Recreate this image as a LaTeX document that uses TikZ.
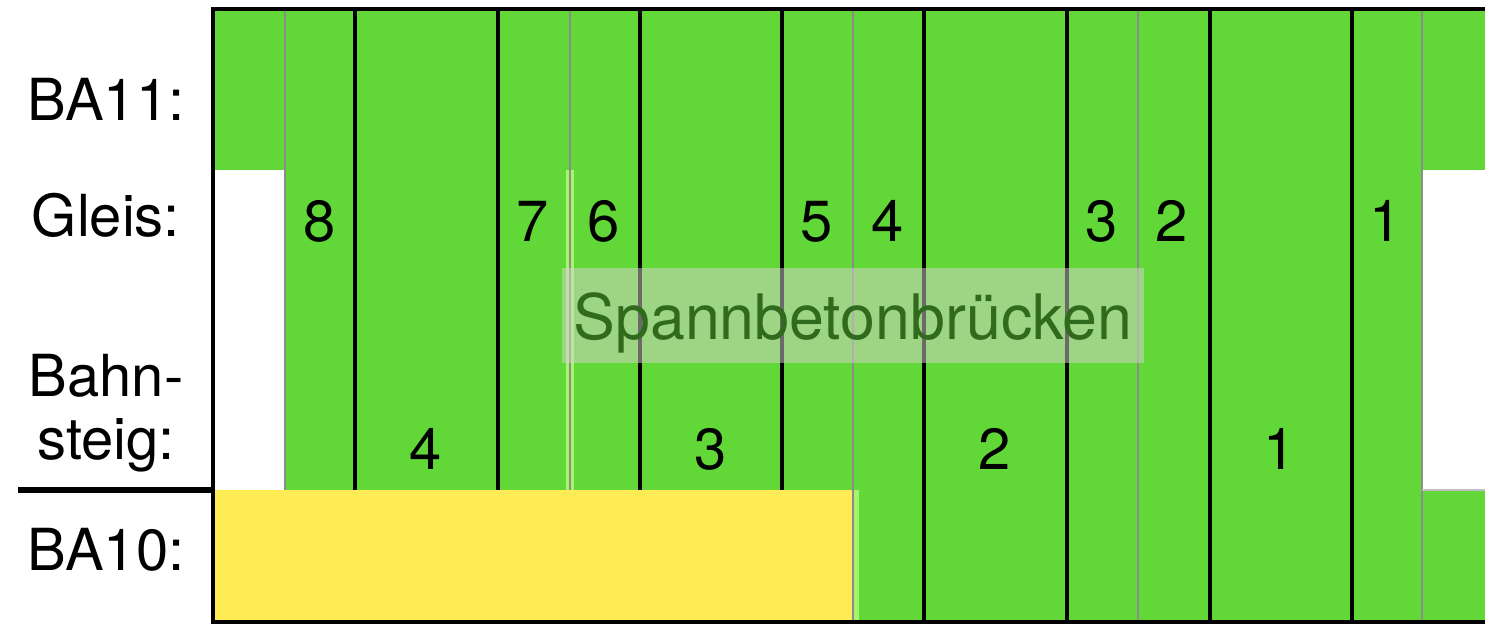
\documentclass[tikz,border=0pt]{standalone}
\usepackage{fontspec}
\setmainfont{TeX Gyre Heros}
\definecolor{bagreen}{RGB}{98,216,56}
\definecolor{bayellow}{RGB}{255,236,85}
\definecolor{bastrip}{RGB}{166,245,110}
\definecolor{sepgray}{RGB}{140,140,140}
\definecolor{boxgray}{RGB}{216,212,210}
\definecolor{textgreen}{RGB}{48,106,28}
\begin{document}
\begin{tikzpicture}[
every node/.style={font=\fontsize{33}{37}\selectfont, inner sep=0pt, anchor=base},
gleisline/.style={black, line width=2pt},
paarline/.style={sepgray, line width=1.1pt},
x=0.02cm,
y=-0.02cm
]
\useasboundingbox (0,0) rectangle (1485,624);

\fill[bagreen] (213,10) rectangle (1485,622);
\fill[white] (213,170) rectangle (285,490);
\fill[white] (1422,170) rectangle (1485,490);
\fill[bayellow] (213,490) rectangle (853,622);
\fill[bastrip] (566,170) rectangle (574,490);
\fill[bastrip] (853,490) rectangle (859,622);

\draw[paarline] (285,10) -- (285,490);
\draw[paarline] (570,10) -- (570,490);
\draw[paarline] (853,10) -- (853,622);
\draw[paarline] (1138,10) -- (1138,622);
\draw[paarline] (1422,10) -- (1422,622);
\draw[gray!50, line width=1.1pt] (1422,490) -- (1485,490);

\draw[gleisline] (355,10) -- (355,490);
\draw[gleisline] (498,10) -- (498,490);
\draw[gleisline] (640,10) -- (640,490);
\draw[gleisline] (782,10) -- (782,490);
\draw[gleisline] (924,10) -- (924,622);
\draw[gleisline] (1067,10) -- (1067,622);
\draw[gleisline] (1210,10) -- (1210,622);
\draw[gleisline] (1352,10) -- (1352,622);

\draw[black, line width=2pt] (1485,9) -- (213,9) -- (213,622) -- (1485,622);
\draw[black, line width=3.5pt] (18,490) -- (213,490);

\node (ba11) at (106,121) {BA11:};
\node (gleis) at (106,237) {Gleis:};
\node (bahn) at (106,397) {Bahn-};
\node (steig) at (106,460) {steig:};
\node (ba10) at (106,571) {BA10:};

\node (g8) at (320,242) {8};
\node (g7) at (533,242) {7};
\node (g6) at (604,242) {6};
\node (g5) at (817,242) {5};
\node (g4) at (888,242) {4};
\node (g3) at (1102,242) {3};
\node (g2) at (1172,242) {2};
\node (g1) at (1386,242) {1};

\node (b4) at (426,470) {4};
\node (b3) at (711,470) {3};
\node (b2) at (995,470) {2};
\node (b1) at (1280,470) {1};

\fill[boxgray, fill opacity=0.5] (562,268) rectangle (1144,363);
\node[textgreen, font=\fontsize{35.7}{40}\selectfont] (sbb) at (853,340) {Spannbetonbrücken};
\end{tikzpicture}
\end{document}
